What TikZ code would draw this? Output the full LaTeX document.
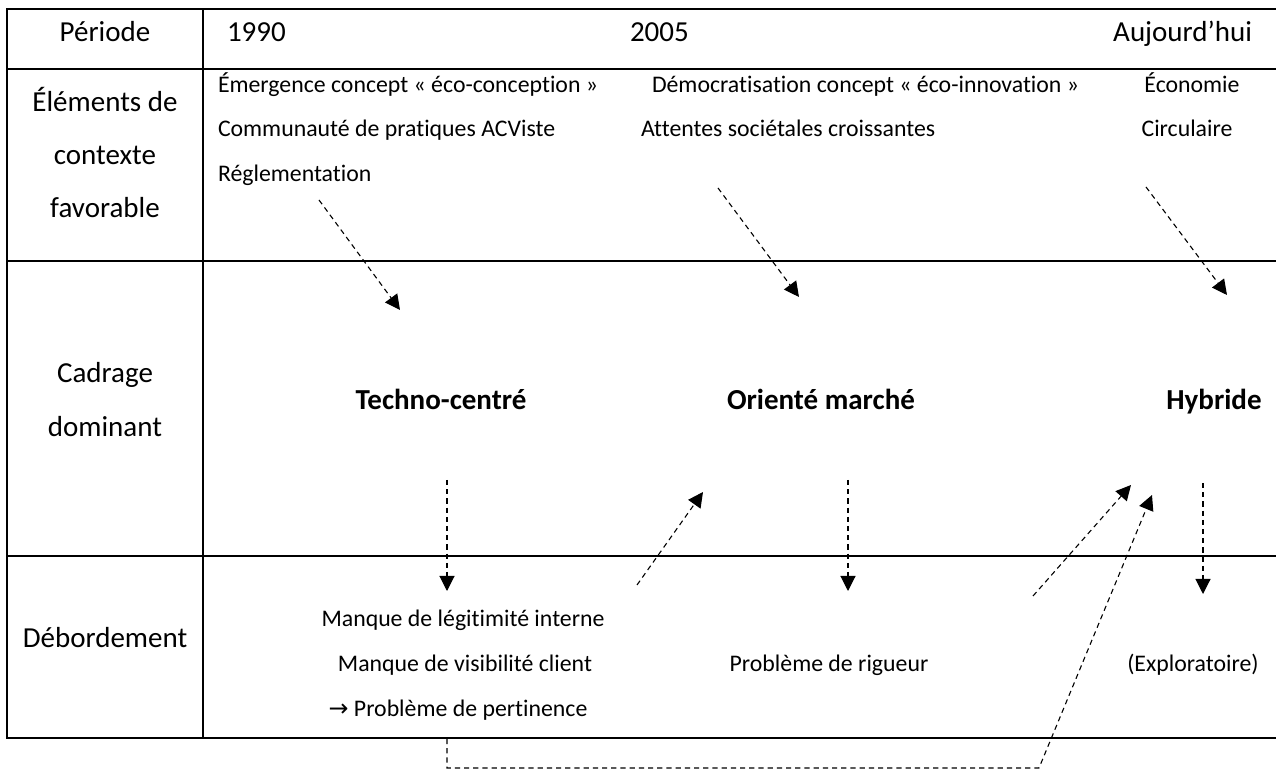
\documentclass[tikz,border=0pt]{standalone}
\usepackage{fontspec}
\setmainfont{Carlito}[Ligatures=NoCommon]
\newfontfamily\symfont{DejaVu Sans}
\usetikzlibrary{arrows.meta}

\begin{document}
\begin{tikzpicture}[x=0.5pt, y=-0.5pt, every node/.style={inner sep=0pt, outer sep=0pt}, big/.style={font=\fontsize{14.5}{17}\selectfont}, small/.style={font=\fontsize{11.9}{14}\selectfont}, bigbold/.style={font=\fontsize{14.5}{17}\selectfont\bfseries}, rule/.style={line width=1pt, line cap=rect}, arrow/.style={-{Triangle[length=7.5pt, width=7.5pt]}, dash pattern=on 2.6pt off 2pt, line width=0.55pt}]
\useasboundingbox (0,0) rectangle (1276,769);
% table
\foreach \y in {9,69,261,556,738}{\draw[rule] (7,\y) -- (1276,\y);}
\foreach \x in {7,203}{\draw[rule] (\x,9) -- (\x,738);}
% first column
\node[big, anchor=base] (period) at (105,42) {Période};
\node[big, anchor=base] (ctx1) at (105,112) {Éléments de};
\node[big, anchor=base] (ctx2) at (105,165) {contexte};
\node[big, anchor=base] (ctx3) at (105,218) {favorable};
\node[big, anchor=base] (frame1) at (105,383) {Cadrage};
\node[big, anchor=base] (frame2) at (105,437) {dominant};
\node[big, anchor=base] (overflow) at (105,648) {Débordement};
% periods
\node[big, anchor=base west] (y1990) at (227,42) {1990};
\node[big, anchor=base west] (y2005) at (630,42) {2005};
\node[big, anchor=base east] (today) at (1252,42) {Aujourd’hui};
% context
\node[small, anchor=base west] (emerg) at (218,93) {Émergence concept « éco-conception »};
\node[small, anchor=base west] (commu) at (218,137) {Communauté de pratiques ACViste};
\node[small, anchor=base west] (regl) at (218,182) {Réglementation};
\node[small, anchor=base west] (democ) at (652,93) {Démocratisation concept « éco-innovation »};
\node[small, anchor=base west] (attent) at (641,137) {Attentes sociétales croissantes};
\node[small, anchor=base] (econ) at (1192,93) {Économie};
\node[small, anchor=base] (circ) at (1187,137) {Circulaire};
% framings
\node[bigbold, anchor=base] (techno) at (441,410) {Techno-centré};
\node[bigbold, anchor=base] (market) at (821,410) {Orienté marché};
\node[bigbold, anchor=base] (hybrid) at (1214,410) {Hybride};
% overflows
\node[small, anchor=base] (legit) at (463,627) {Manque de légitimité interne};
\node[small, anchor=base] (visib) at (465,672) {Manque de visibilité client};
\node[small, anchor=base] (pertin) at (458,717) {{\symfont →} Problème de pertinence};
\node[small, anchor=base] (rigour) at (829,672) {Problème de rigueur};
\node[small, anchor=base] (explo) at (1193,672) {(Exploratoire)};
% arrow ends
\coordinate (regl-out) at (319,200); \coordinate (techno-in) at (400,310);
\coordinate (attent-out) at (718,188); \coordinate (market-in) at (799,297);
\coordinate (circ-out) at (1146,187); \coordinate (hybrid-in) at (1227,295);
\coordinate (techno-out) at (447,480); \coordinate (legit-in) at (447,591);
\coordinate (market-out) at (848,480); \coordinate (rigour-in) at (848,591);
\coordinate (hybrid-out) at (1203,483); \coordinate (explo-in) at (1203,594);
\coordinate (legit-up) at (637,585); \coordinate (market-up) at (703,492);
\coordinate (rigour-up) at (1033,596); \coordinate (hybrid-up) at (1131,485);
\coordinate (loop-a) at (447,739); \coordinate (loop-b) at (447,768);
\coordinate (loop-c) at (1039,768); \coordinate (hybrid-back) at (1152,495);
\foreach \s/\e in {regl-out/techno-in,attent-out/market-in,circ-out/hybrid-in,techno-out/legit-in,market-out/rigour-in,hybrid-out/explo-in,legit-up/market-up,rigour-up/hybrid-up}{\draw[arrow] (\s)--(\e);}
\draw[arrow] (loop-a) -- (loop-b) -- (loop-c) -- (hybrid-back);
\end{tikzpicture}
\end{document}
